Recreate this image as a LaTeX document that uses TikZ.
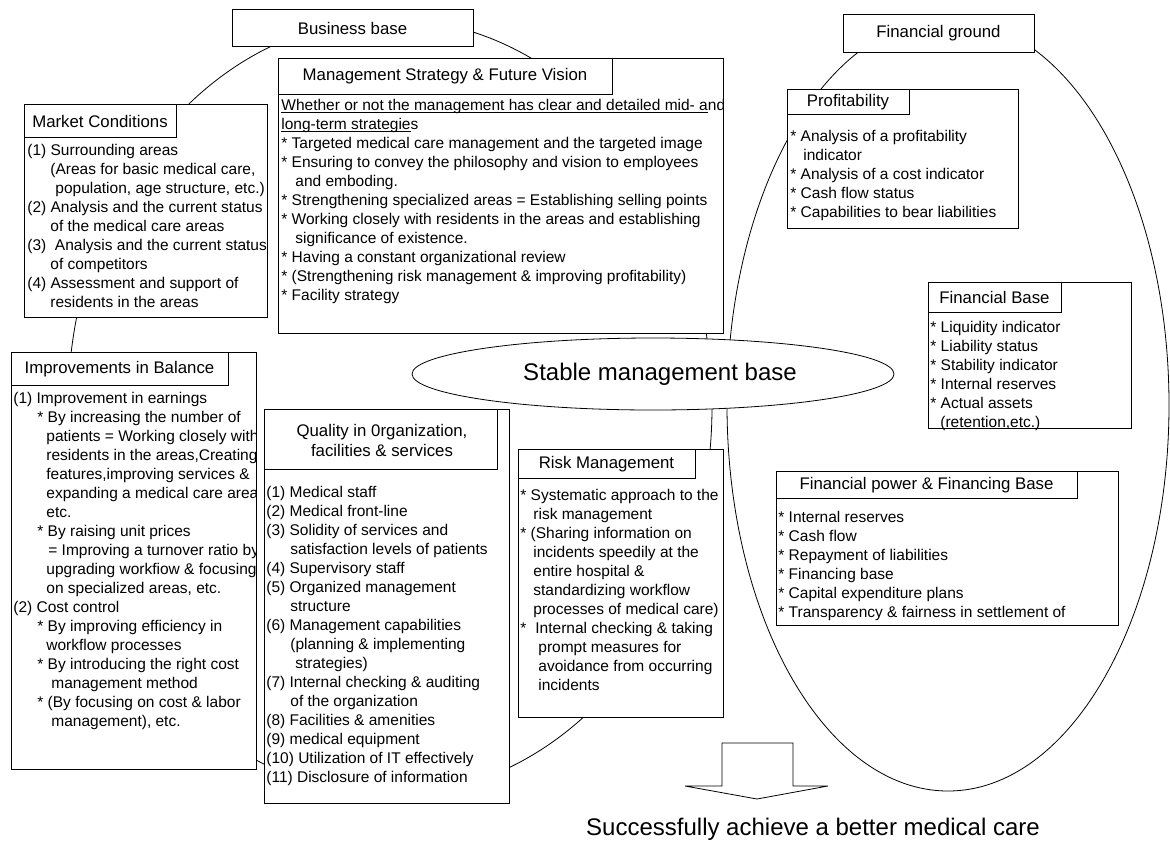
\documentclass[tikz,border=0pt]{standalone}
\usepackage{fontspec}
\setmainfont{Liberation Sans}
\usetikzlibrary{shapes.geometric}
\newsavebox\ulbox
\newcommand\ulin[1]{\sbox\ulbox{#1}\rlap{\rule[-2.2pt]{\wd\ulbox}{0.7pt}}\usebox\ulbox}
\begin{document}
\begin{tikzpicture}[x=1pt,y=-1pt,line width=0.8pt,
  boxframe/.style={draw=black,fill=white},
  ttl/.style={inner sep=0pt,font=\fontsize{16.8}{20}\selectfont,align=center},
  body/.style={anchor=north west,inner sep=0pt,align=left,font=\fontsize{15.5}{19}\selectfont},
  bigtxt/.style={inner sep=0pt,font=\fontsize{24}{28}\selectfont}]
\useasboundingbox (0,0) rectangle (1170,847);
\fill[white] (0,0) rectangle (1170,847);

% big ellipses (business base, financial ground)
\draw (390,407) ellipse [x radius=322pt,y radius=388pt];
\draw (948,405) ellipse [x radius=221pt,y radius=386pt];

% central ellipse
\node[draw,fill=white,ellipse,minimum width=482pt,minimum height=72pt,inner sep=0pt] (smb) at (653,374) {};
\node[bigtxt] (smbT) at (660,374) {Stable management base};

% Business base
\path[boxframe] (232,9) rectangle (473,46);
\node[ttl] (bbT) at (352.5,28) {Business base};

% Management Strategy
\path[boxframe] (278,58) rectangle (723,333);
\draw (278,58) rectangle (612,94);
\node[ttl] (msT) at (445,76.5) {Management Strategy \& Future Vision};
\begin{scope}
\clip (278,58) rectangle (723,333);
\node[body] (msB) at (281,96.7) {\strut\ulin{Whether or not the management has clear and detailed mid- a}nd\\
\ulin{long-term strategie}s\\
* Targeted medical care management and the targeted image\\
* Ensuring to convey the philosophy and vision to employees\\
\hspace*{14pt}and emboding.\\
* Strengthening specialized areas = Establishing selling points\\
* Working closely with residents in the areas and establishing\\
\hspace*{14pt}significance of existence.\\
* Having a constant organizational review\\
* (Strengthening risk management \& improving profitability)\\
* Facility strategy};
\end{scope}

% Market Conditions
\path[boxframe] (24,104) rectangle (267,317);
\draw (24,104) rectangle (176,137);
\node[ttl] (mcT) at (100,121) {Market Conditions};
\begin{scope}
\clip (24,104) rectangle (267,317);
\node[body] (mcB) at (27,141.7) {\strut(1) Surrounding areas\\
\hspace*{23pt}(Areas for basic medical care,\\
\hspace*{28pt}population, age structure, etc.)\\
(2) Analysis and the current status\\
\hspace*{23pt}of the medical care areas\\
(3)\ \ Analysis and the current status\\
\hspace*{23pt}of competitors\\
(4) Assessment and support of\\
\hspace*{23pt}residents in the areas};
\end{scope}

% Improvements in Balance
\path[boxframe] (11,352) rectangle (256,769);
\draw (11,352) rectangle (228,385);
\node[ttl] (ibT) at (119.5,369) {Improvements in Balance};
\begin{scope}
\clip (11,352) rectangle (256,769);
\node[body] (ibB) at (13,389.7) {\strut(1) Improvement in earnings\\
\hspace*{24pt}* By increasing the number of\\
\hspace*{33pt}patients = Working closely with\\
\hspace*{33pt}residents in the areas,Creating\\
\hspace*{33pt}features,improving services \&\\
\hspace*{33pt}expanding a medical care area,\\
\hspace*{33pt}etc.\\
\hspace*{24pt}* By raising unit prices\\
\hspace*{35pt}= Improving a turnover ratio by\\
\hspace*{33pt}upgrading workfiow \& focusing\\
\hspace*{33pt}on specialized areas, etc.\\
(2) Cost control\\
\hspace*{24pt}* By improving efficiency in\\
\hspace*{33pt}workflow processes\\
\hspace*{24pt}* By introducing the right cost\\
\hspace*{38pt}management method\\
\hspace*{24pt}* (By focusing on cost \& labor\\
\hspace*{38pt}management), etc.};
\end{scope}

% Quality
\path[boxframe] (264,409) rectangle (509,803);
\draw (264,409) rectangle (497,469);
\node[ttl] (qoT) at (382,440) {Quality in 0rganization,\\ facilities \& services};
\begin{scope}
\clip (264,409) rectangle (509,803);
\node[body] (qoB) at (266,483.7) {\strut(1) Medical staff\\
(2) Medical front-line\\
(3) Solidity of services and\\
\hspace*{24pt}satisfaction levels of patients\\
(4) Supervisory staff\\
(5) Organized management\\
\hspace*{24pt}structure\\
(6) Management capabilities\\
\hspace*{24pt}(planning \& implementing\\
\hspace*{29pt}strategies)\\
(7) Internal checking \& auditing\\
\hspace*{24pt}of the organization\\
(8) Facilities \& amenities\\
(9) medical equipment\\
(10) Utilization of IT effectively\\
(11) Disclosure of information};
\end{scope}

% Risk Management
\path[boxframe] (518,449) rectangle (723,717);
\draw (518,449) rectangle (695,478);
\node[ttl] (rmT) at (606.5,464) {Risk Management};
\begin{scope}
\clip (518,449) rectangle (723,717);
\node[body] (rmB) at (520,486.7) {\strut* Systematic approach to the\\
\hspace*{13pt}risk management\\
* (Sharing information on\\
\hspace*{13pt}incidents speedily at the\\
\hspace*{13pt}entire hospital \&\\
\hspace*{13pt}standardizing workflow\\
\hspace*{13pt}processes of medical care)\\
*\hspace*{9pt}Internal checking \& taking\\
\hspace*{18pt}prompt measures for\\
\hspace*{18pt}avoidance from occurring\\
\hspace*{18pt}incidents};
\end{scope}

% Financial ground
\path[boxframe] (843,14) rectangle (1034,52);
\node[ttl] (fgT) at (938.5,33) {Financial ground};

% Profitability
\path[boxframe] (787,89) rectangle (1018,228);
\draw (787,89) rectangle (909,114);
\node[ttl] (prT) at (848,102) {Profitability};
\begin{scope}
\clip (787,89) rectangle (1018,228);
\node[body] (prB) at (790,127.7) {\strut* Analysis of a profitability\\
\hspace*{13pt}indicator\\
* Analysis of a cost indicator\\
* Cash flow status\\
* Capabilities to bear liabilities};
\end{scope}

% Financial Base
\path[boxframe] (928,282) rectangle (1131,428);
\draw (928,282) rectangle (1061,312);
\node[ttl] (fbT) at (994.5,297.5) {Financial Base};
\begin{scope}
\clip (928,282) rectangle (1131,436);
\node[body] (fbB) at (930,318.7) {\strut* Liquidity indicator\\
* Liability status\\
* Stability indicator\\
* Internal reserves\\
* Actual assets\\
\hspace*{10pt}(retention,etc.)};
\end{scope}

% Financial power & Financing Base
\path[boxframe] (776,471) rectangle (1118,625);
\draw (776,471) rectangle (1077,498);
\node[ttl] (fpT) at (926.5,485) {Financial power \& Financing Base};
\begin{scope}
\clip (776,471) rectangle (1118,625);
\node[body] (fpB) at (778,508.7) {\strut* Internal reserves\\
* Cash flow\\
* Repayment of liabilities\\
* Financing base\\
* Capital expenditure plans\\
* Transparency \& fairness in settlement of};
\end{scope}

% block arrow and goal
\draw[fill=white] (722,743) -- (793,743) -- (793,786) -- (828,786) -- (757,799) -- (685,786) -- (722,786) -- cycle;
\node[bigtxt] (goal) at (813,829) {Successfully achieve a better medical care};
\end{tikzpicture}
\end{document}
